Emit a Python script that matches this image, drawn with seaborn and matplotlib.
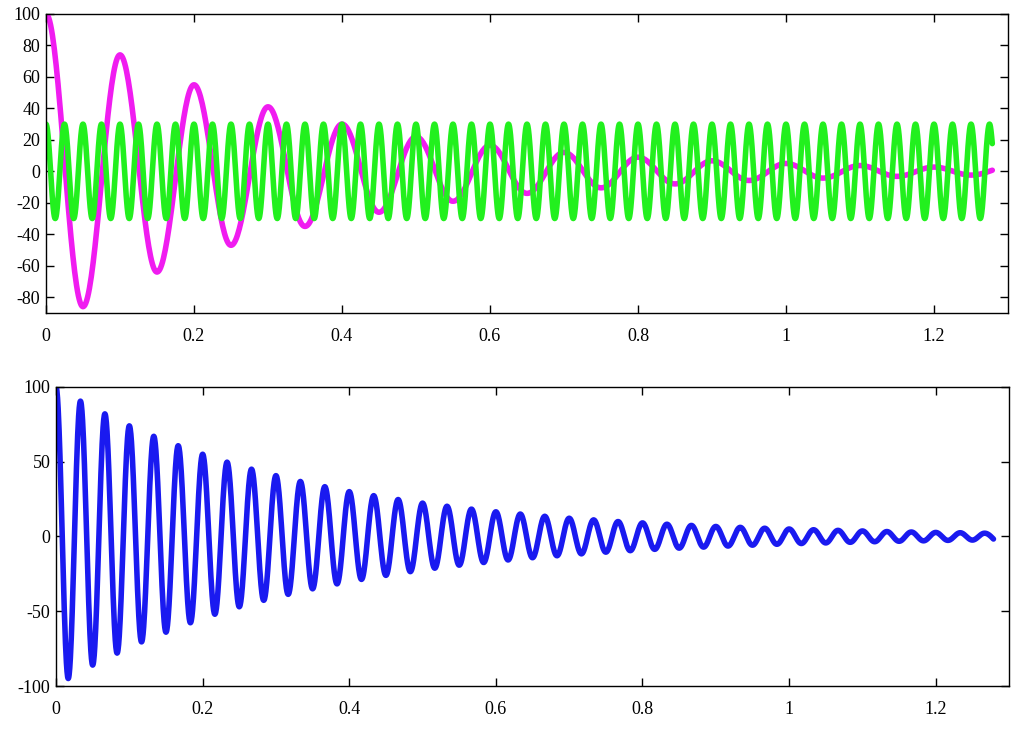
import numpy as np
import matplotlib
matplotlib.use("Agg")
import matplotlib.pyplot as plt
import seaborn as sns

# ------------------------------------------------------------------ #
#  Values
# ------------------------------------------------------------------ #
# top panel, magenta: extrema every 0.05 s (10 Hz damped)
magenta_step = 0.05
magenta_extrema = [100, -86, 74, -64, 55, -47, 41, -35, 30, -26, 22, -19,
                   16.5, -14, 12, -10.5, 9, -8, 6.7, -5.8, 5, -4.3, 3.7,
                   -3.2, 2.7, -2.4]
magenta_end = 0.7

# top panel, green: extrema every 1/80 s (40 Hz, constant amplitude)
green_step = 1 / 80
green_extrema = [30 if k % 2 == 0 else -30 for k in range(103)]
green_end = 17.6

# bottom panel, blue: extrema every 1/60 s (30 Hz damped)
blue_step = 1 / 60
blue_extrema = [100, -95, 90.5, -86, 82, -78, 74, -70.5, 67, -64, 60.7,
                -57.7, 55, -52, 49.7, -47, 45, -42.7, 40.7, -38.7, 36.8,
                -35, 33.3, -31.7, 30, -28.7, 27.3, -26, 24.7, -23.5, 22.3,
                -21.2, 20.2, -19.2, 18.3, -17.4, 16.5, -15.7, 15, -14.2,
                13.5, -12.9, 12.2, -11.6, 11.1, -10.5, 10, -9.5, 9.1, -8.6,
                8.2, -7.8, 7.4, -7.1, 6.7, -6.4, 6.1, -5.8, 5.5, -5.2, 5,
                -4.7, 4.5, -4.3, 4.1, -3.9, 3.7, -3.5, 3.3, -3.2, 3, -2.9,
                2.7, -2.6, 2.5, -2.4, 2.2]
blue_end = -1.7

t_end = 1.27875
top_xticks = [0, 0.2, 0.4, 0.6, 0.8, 1, 1.2]
top_yticks = [-80, -60, -40, -20, 0, 20, 40, 60, 80, 100]
bottom_yticks = [-100, -50, 0, 50, 100]


def smooth_through(step, extrema, end_value, end_time, n=40):
    """Join successive extrema with half-cosine arcs (flat at each extremum)."""
    ts, vs = [], []
    for k in range(len(extrema) - 1):
        s = np.linspace(0, 1, n, endpoint=False)
        v0, v1 = extrema[k], extrema[k + 1]
        ts.append(k * step + s * step)
        vs.append((v0 + v1) / 2 + (v0 - v1) / 2 * np.cos(np.pi * s))
    t0 = (len(extrema) - 1) * step
    s = np.linspace(0, 1, n)
    v0 = extrema[-1]
    ts.append(t0 + s * (end_time - t0))
    vs.append(v0 + (end_value - v0) * (1 - np.cos(np.pi * s / 2)))
    return np.concatenate(ts), np.concatenate(vs)


sns.set_theme(style="ticks")
plt.rcParams['font.family'] = ['Liberation Serif', 'DejaVu Serif']
plt.rcParams['axes.unicode_minus'] = False

fig = plt.figure(figsize=(10.24, 7.33), dpi=100)
ax1 = fig.add_axes([0.0449, 0.573, 0.9395, 0.408])
ax2 = fig.add_axes([0.0547, 0.0641, 0.9307, 0.408])

tm, vm = smooth_through(magenta_step, magenta_extrema, magenta_end, t_end)
tg, vg = smooth_through(green_step, green_extrema, green_end, t_end)
tb, vb = smooth_through(blue_step, blue_extrema, blue_end, t_end)

sns.lineplot(x=tm, y=vm, ax=ax1, color='#f01cf0', linewidth=4,
             sort=False, estimator=None)
sns.lineplot(x=tg, y=vg, ax=ax1, color='#22f01e', linewidth=4,
             sort=False, estimator=None)
sns.lineplot(x=tb, y=vb, ax=ax2, color='#1a1af0', linewidth=4,
             sort=False, estimator=None)

ax1.set_xlim(0, 1.3)
ax1.set_ylim(-90, 100)
ax1.set_yticks(top_yticks)
ax2.set_xlim(0, 1.3)
ax2.set_ylim(-100, 100)
ax2.set_yticks(bottom_yticks)

for ax in (ax1, ax2):
    ax.set_xticks(top_xticks)
    ax.set_xticklabels([f'{x:g}' for x in top_xticks])
    ax.tick_params(direction='in', length=6, width=1, top=True, right=True,
                   labelsize=13, colors='black')
    ax.tick_params(axis='x', pad=11)
    ax.tick_params(axis='y', pad=4)
    for sp in ax.spines.values():
        sp.set_visible(True)
        sp.set_color('black')
        sp.set_linewidth(1)
    ax.set_xlabel('')
    ax.set_ylabel('')
    ax.grid(False)

fig.savefig('out.png', dpi=100)
